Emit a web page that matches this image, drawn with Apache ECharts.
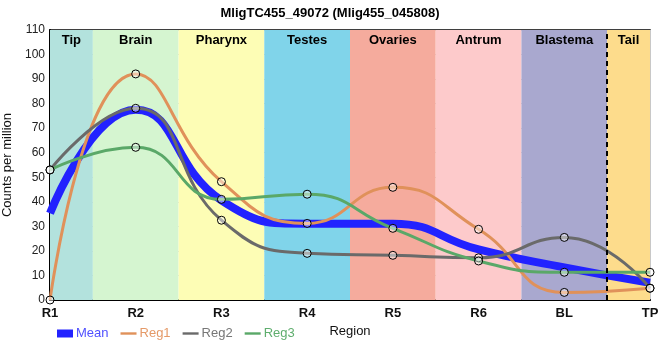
<!DOCTYPE html>
<html><head><meta charset="utf-8">
<script src="https://cdn.jsdelivr.net/npm/echarts@6/dist/echarts.min.js"></script>
<style>html,body{margin:0;padding:0;background:#fff}#c{width:660px;height:360px}</style>
</head><body><div id="c"></div>
<script>
const categories = ['R1','R2','R3','R4','R5','R6','BL','TP'];
const meanVals = [35.3, 77.5, 40.6, 31.1, 31.1, 20.6, 13.3, 7.0];
const reg1Vals = [0, 92.1, 48.2, 31.2, 45.9, 28.8, 3.1, 4.8];
const reg2Vals = [53, 78.1, 32.5, 19.0, 18.2, 17.2, 25.5, 4.8];
const reg3Vals = [53, 62.2, 41.0, 43.1, 29.2, 15.9, 11.3, 11.3];
const bandNames = ['Tip','Brain','Pharynx','Testes','Ovaries','Antrum','Blastema','Tail'];
const bandStarts = [0, 0.5, 1.5, 2.5, 3.5, 4.5, 5.5, 6.5];
const bandEnds = [0.5, 1.5, 2.5, 3.5, 4.5, 5.5, 6.5, 7];
const bandColors = ['#b3e2dd','#d5f5d0','#fdfdb5','#80d4ea','#f5ab9d','#fdcacb','#a9a8cf','#fddc8c'];
const yTicks = {min: 0, max: 110, interval: 10};
const dashedAt = 6.5;

const FONT = '"Liberation Sans", Arial, sans-serif';
const chart = echarts.init(document.getElementById('c'), null, {renderer: 'canvas'});

const markerStyle = {color: 'rgba(255,255,255,0.45)', borderColor: '#000', borderWidth: 1};
function regSeries(name, data, color) {
  return {
    name, type: 'line', data, smooth: 0.5, z: 4,
    symbol: 'circle', symbolSize: 8, showSymbol: true,
    lineStyle: {color, width: 3},
    itemStyle: Object.assign({}, markerStyle),
    emphasis: {disabled: true}
  };
}
const legendLine = 'path://M0,0H20V3H0Z';

chart.setOption({
  animation: false,
  textStyle: {fontFamily: FONT},
  title: {
    text: 'MligTC455_49072 (Mlig455_045808)', left: 'center', top: 2,
    textStyle: {fontSize: 13, fontWeight: 'bold', color: '#000', fontFamily: FONT}
  },
  grid: {left: 50, right: 10, top: 30, bottom: 60, outerBoundsMode: 'none', containLabel: false,
         show: true, borderColor: '#000', borderWidth: 1.5, backgroundColor: 'transparent'},
  legend: {
    left: 52, top: 322, itemWidth: 16, itemGap: 12, itemHeight: 8,
    textStyle: {fontSize: 13, fontFamily: FONT, padding: [0,0,0,-2]},
    data: [
      {name: 'Mean', icon: 'rect', itemStyle: {color: '#2222ff', borderWidth: 0}, textStyle: {color: '#5050ff'}},
      {name: 'Reg1', icon: legendLine, itemStyle: {color: '#e0915a', borderWidth: 0}, textStyle: {color: '#e59a68'}},
      {name: 'Reg2', icon: legendLine, itemStyle: {color: '#6a6a6a', borderWidth: 0}, textStyle: {color: '#777777'}},
      {name: 'Reg3', icon: legendLine, itemStyle: {color: '#5aa868', borderWidth: 0}, textStyle: {color: '#5fae6e'}}
    ]
  },
  xAxis: [{
    type: 'category', data: categories, boundaryGap: false,
    name: 'Region', nameLocation: 'middle', nameGap: 25,
    nameTextStyle: {fontSize: 13, color: '#111', fontFamily: FONT},
    axisLine: {lineStyle: {color: '#000', width: 2}},
    axisTick: {show: false},
    axisLabel: {fontSize: 13, color: '#111', fontWeight: 'bold', margin: 7, fontFamily: FONT},
    splitLine: {show: true, lineStyle: {color: '#c8c8c8', width: 1}}
  }, {
    type: 'value', min: 0, max: 7, show: false
  }],
  yAxis: {
    type: 'value', min: yTicks.min, max: yTicks.max, interval: yTicks.interval,
    name: 'Counts per million', nameLocation: 'middle', nameGap: 34,
    nameTextStyle: {fontSize: 13, color: '#111', fontFamily: FONT},
    axisLine: {show: true, lineStyle: {color: '#000', width: 2}},
    axisTick: {show: false},
    axisLabel: {fontSize: 12, color: '#222', margin: 5, fontFamily: FONT},
    splitLine: {show: true, lineStyle: {color: '#c8c8c8', width: 1}}
  },
  series: [
    {
      name: 'bands', type: 'line', xAxisIndex: 1, data: [[0, 0], [7, 0]],
      symbol: 'none', lineStyle: {width: 0, opacity: 0}, z: -1, silent: true,
      markArea: {
        silent: true,
        label: {show: true, position: 'insideTop', distance: 4, fontSize: 13, fontWeight: 'bold', color: '#000', fontFamily: FONT},
        data: bandNames.map((n, i) => [
          {name: n, xAxis: bandStarts[i], itemStyle: {color: bandColors[i], opacity: 1}},
          {xAxis: bandEnds[i]}
        ])
      },
      markLine: {
        silent: true, symbol: 'none', label: {show: false},
        lineStyle: {color: '#000', type: [5, 4], width: 2},
        data: [{xAxis: dashedAt}]
      }
    },
    {
      name: 'Mean', type: 'line', data: meanVals, smooth: 0.5, z: 3,
      symbol: 'none', lineStyle: {color: '#2222ff', width: 8},
      itemStyle: {color: '#2222ff'}
    },
    regSeries('Reg1', reg1Vals, '#e0915a'),
    regSeries('Reg2', reg2Vals, '#6a6a6a'),
    regSeries('Reg3', reg3Vals, '#5aa868')
  ]
});
</script></body></html>
